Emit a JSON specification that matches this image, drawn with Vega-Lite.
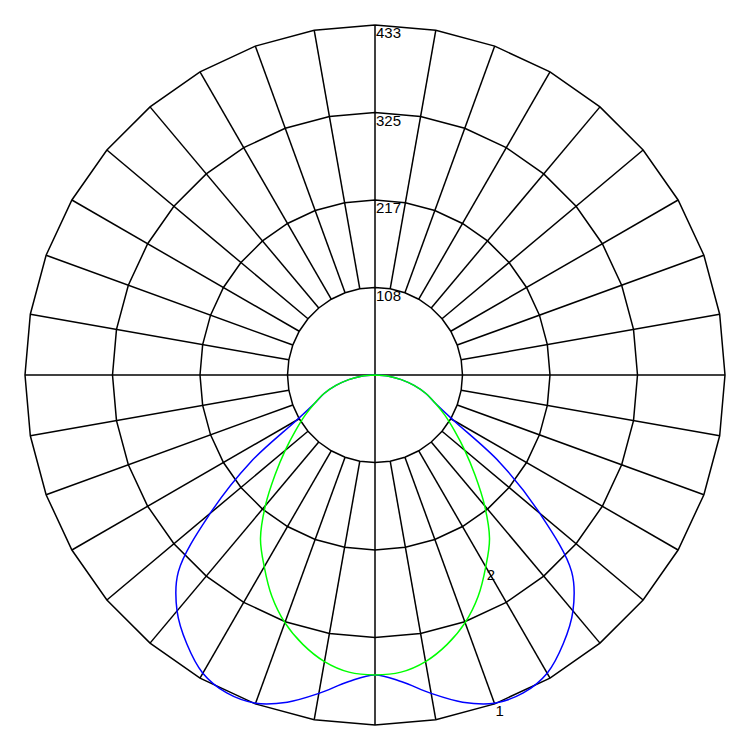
{
  "$schema": "https://vega.github.io/schema/vega-lite/v6.json",
  "width": 750,
  "height": 750,
  "padding": 0,
  "autosize": "none",
  "background": "white",
  "config": {"view": {"stroke": null}, "text": {"font": "Liberation Sans"}},
  "datasets": {
    "rings": [
      {"r":1,"i":0,"x":0,"y":108.25},{"r":1,"i":1,"x":18.80,"y":106.60},{"r":1,"i":2,"x":37.02,"y":101.72},{"r":1,"i":3,"x":54.13,"y":93.75},{"r":1,"i":4,"x":69.58,"y":82.92},{"r":1,"i":5,"x":82.92,"y":69.58},{"r":1,"i":6,"x":93.75,"y":54.13},{"r":1,"i":7,"x":101.72,"y":37.02},{"r":1,"i":8,"x":106.60,"y":18.80},{"r":1,"i":9,"x":108.25,"y":0},
      {"r":1,"i":10,"x":106.60,"y":-18.80},{"r":1,"i":11,"x":101.72,"y":-37.02},{"r":1,"i":12,"x":93.75,"y":-54.13},{"r":1,"i":13,"x":82.92,"y":-69.58},{"r":1,"i":14,"x":69.58,"y":-82.92},{"r":1,"i":15,"x":54.13,"y":-93.75},{"r":1,"i":16,"x":37.02,"y":-101.72},{"r":1,"i":17,"x":18.80,"y":-106.60},{"r":1,"i":18,"x":0,"y":-108.25},
      {"r":1,"i":19,"x":-18.80,"y":-106.60},{"r":1,"i":20,"x":-37.02,"y":-101.72},{"r":1,"i":21,"x":-54.13,"y":-93.75},{"r":1,"i":22,"x":-69.58,"y":-82.92},{"r":1,"i":23,"x":-82.92,"y":-69.58},{"r":1,"i":24,"x":-93.75,"y":-54.13},{"r":1,"i":25,"x":-101.72,"y":-37.02},{"r":1,"i":26,"x":-106.60,"y":-18.80},{"r":1,"i":27,"x":-108.25,"y":0},
      {"r":1,"i":28,"x":-106.60,"y":18.80},{"r":1,"i":29,"x":-101.72,"y":37.02},{"r":1,"i":30,"x":-93.75,"y":54.13},{"r":1,"i":31,"x":-82.92,"y":69.58},{"r":1,"i":32,"x":-69.58,"y":82.92},{"r":1,"i":33,"x":-54.13,"y":93.75},{"r":1,"i":34,"x":-37.02,"y":101.72},{"r":1,"i":35,"x":-18.80,"y":106.60},{"r":1,"i":36,"x":0,"y":108.25},

      {"r":2,"i":0,"x":0,"y":216.5},{"r":2,"i":1,"x":37.59,"y":213.21},{"r":2,"i":2,"x":74.05,"y":203.44},{"r":2,"i":3,"x":108.25,"y":187.49},{"r":2,"i":4,"x":139.16,"y":165.85},{"r":2,"i":5,"x":165.85,"y":139.16},{"r":2,"i":6,"x":187.49,"y":108.25},{"r":2,"i":7,"x":203.44,"y":74.05},{"r":2,"i":8,"x":213.21,"y":37.59},{"r":2,"i":9,"x":216.5,"y":0},
      {"r":2,"i":10,"x":213.21,"y":-37.59},{"r":2,"i":11,"x":203.44,"y":-74.05},{"r":2,"i":12,"x":187.49,"y":-108.25},{"r":2,"i":13,"x":165.85,"y":-139.16},{"r":2,"i":14,"x":139.16,"y":-165.85},{"r":2,"i":15,"x":108.25,"y":-187.49},{"r":2,"i":16,"x":74.05,"y":-203.44},{"r":2,"i":17,"x":37.59,"y":-213.21},{"r":2,"i":18,"x":0,"y":-216.5},
      {"r":2,"i":19,"x":-37.59,"y":-213.21},{"r":2,"i":20,"x":-74.05,"y":-203.44},{"r":2,"i":21,"x":-108.25,"y":-187.49},{"r":2,"i":22,"x":-139.16,"y":-165.85},{"r":2,"i":23,"x":-165.85,"y":-139.16},{"r":2,"i":24,"x":-187.49,"y":-108.25},{"r":2,"i":25,"x":-203.44,"y":-74.05},{"r":2,"i":26,"x":-213.21,"y":-37.59},{"r":2,"i":27,"x":-216.5,"y":0},
      {"r":2,"i":28,"x":-213.21,"y":37.59},{"r":2,"i":29,"x":-203.44,"y":74.05},{"r":2,"i":30,"x":-187.49,"y":108.25},{"r":2,"i":31,"x":-165.85,"y":139.16},{"r":2,"i":32,"x":-139.16,"y":165.85},{"r":2,"i":33,"x":-108.25,"y":187.49},{"r":2,"i":34,"x":-74.05,"y":203.44},{"r":2,"i":35,"x":-37.59,"y":213.21},{"r":2,"i":36,"x":0,"y":216.5},

      {"r":3,"i":0,"x":0,"y":324.75},{"r":3,"i":1,"x":56.39,"y":319.82},{"r":3,"i":2,"x":111.07,"y":305.17},{"r":3,"i":3,"x":162.38,"y":281.24},{"r":3,"i":4,"x":208.75,"y":248.77},{"r":3,"i":5,"x":248.77,"y":208.75},{"r":3,"i":6,"x":281.24,"y":162.38},{"r":3,"i":7,"x":305.17,"y":111.07},{"r":3,"i":8,"x":319.82,"y":56.39},{"r":3,"i":9,"x":324.75,"y":0},
      {"r":3,"i":10,"x":319.82,"y":-56.39},{"r":3,"i":11,"x":305.17,"y":-111.07},{"r":3,"i":12,"x":281.24,"y":-162.38},{"r":3,"i":13,"x":248.77,"y":-208.75},{"r":3,"i":14,"x":208.75,"y":-248.77},{"r":3,"i":15,"x":162.38,"y":-281.24},{"r":3,"i":16,"x":111.07,"y":-305.17},{"r":3,"i":17,"x":56.39,"y":-319.82},{"r":3,"i":18,"x":0,"y":-324.75},
      {"r":3,"i":19,"x":-56.39,"y":-319.82},{"r":3,"i":20,"x":-111.07,"y":-305.17},{"r":3,"i":21,"x":-162.38,"y":-281.24},{"r":3,"i":22,"x":-208.75,"y":-248.77},{"r":3,"i":23,"x":-248.77,"y":-208.75},{"r":3,"i":24,"x":-281.24,"y":-162.38},{"r":3,"i":25,"x":-305.17,"y":-111.07},{"r":3,"i":26,"x":-319.82,"y":-56.39},{"r":3,"i":27,"x":-324.75,"y":0},
      {"r":3,"i":28,"x":-319.82,"y":56.39},{"r":3,"i":29,"x":-305.17,"y":111.07},{"r":3,"i":30,"x":-281.24,"y":162.38},{"r":3,"i":31,"x":-248.77,"y":208.75},{"r":3,"i":32,"x":-208.75,"y":248.77},{"r":3,"i":33,"x":-162.38,"y":281.24},{"r":3,"i":34,"x":-111.07,"y":305.17},{"r":3,"i":35,"x":-56.39,"y":319.82},{"r":3,"i":36,"x":0,"y":324.75},

      {"r":4,"i":0,"x":0,"y":433},{"r":4,"i":1,"x":75.19,"y":426.42},{"r":4,"i":2,"x":148.09,"y":406.89},{"r":4,"i":3,"x":216.5,"y":374.99},{"r":4,"i":4,"x":278.33,"y":331.70},{"r":4,"i":5,"x":331.70,"y":278.33},{"r":4,"i":6,"x":374.99,"y":216.5},{"r":4,"i":7,"x":406.89,"y":148.09},{"r":4,"i":8,"x":426.42,"y":75.19},{"r":4,"i":9,"x":433,"y":0},
      {"r":4,"i":10,"x":426.42,"y":-75.19},{"r":4,"i":11,"x":406.89,"y":-148.09},{"r":4,"i":12,"x":374.99,"y":-216.5},{"r":4,"i":13,"x":331.70,"y":-278.33},{"r":4,"i":14,"x":278.33,"y":-331.70},{"r":4,"i":15,"x":216.5,"y":-374.99},{"r":4,"i":16,"x":148.09,"y":-406.89},{"r":4,"i":17,"x":75.19,"y":-426.42},{"r":4,"i":18,"x":0,"y":-433},
      {"r":4,"i":19,"x":-75.19,"y":-426.42},{"r":4,"i":20,"x":-148.09,"y":-406.89},{"r":4,"i":21,"x":-216.5,"y":-374.99},{"r":4,"i":22,"x":-278.33,"y":-331.70},{"r":4,"i":23,"x":-331.70,"y":-278.33},{"r":4,"i":24,"x":-374.99,"y":-216.5},{"r":4,"i":25,"x":-406.89,"y":-148.09},{"r":4,"i":26,"x":-426.42,"y":-75.19},{"r":4,"i":27,"x":-433,"y":0},
      {"r":4,"i":28,"x":-426.42,"y":75.19},{"r":4,"i":29,"x":-406.89,"y":148.09},{"r":4,"i":30,"x":-374.99,"y":216.5},{"r":4,"i":31,"x":-331.70,"y":278.33},{"r":4,"i":32,"x":-278.33,"y":331.70},{"r":4,"i":33,"x":-216.5,"y":374.99},{"r":4,"i":34,"x":-148.09,"y":406.89},{"r":4,"i":35,"x":-75.19,"y":426.42},{"r":4,"i":36,"x":0,"y":433}
    ],
    "spokes": [
      {"x":-433,"y":0,"x2":433,"y2":0},{"x":0,"y":-433,"x2":0,"y2":433},
      {"x":18.80,"y":106.60,"x2":75.19,"y2":426.42},{"x":37.02,"y":101.72,"x2":148.09,"y2":406.89},{"x":54.13,"y":93.75,"x2":216.5,"y2":374.99},{"x":69.58,"y":82.92,"x2":278.33,"y2":331.70},{"x":82.92,"y":69.58,"x2":331.70,"y2":278.33},{"x":93.75,"y":54.13,"x2":374.99,"y2":216.5},{"x":101.72,"y":37.02,"x2":406.89,"y2":148.09},{"x":106.60,"y":18.80,"x2":426.42,"y2":75.19},
      {"x":18.80,"y":-106.60,"x2":75.19,"y2":-426.42},{"x":37.02,"y":-101.72,"x2":148.09,"y2":-406.89},{"x":54.13,"y":-93.75,"x2":216.5,"y2":-374.99},{"x":69.58,"y":-82.92,"x2":278.33,"y2":-331.70},{"x":82.92,"y":-69.58,"x2":331.70,"y2":-278.33},{"x":93.75,"y":-54.13,"x2":374.99,"y2":-216.5},{"x":101.72,"y":-37.02,"x2":406.89,"y2":-148.09},{"x":106.60,"y":-18.80,"x2":426.42,"y2":-75.19},
      {"x":-18.80,"y":-106.60,"x2":-75.19,"y2":-426.42},{"x":-37.02,"y":-101.72,"x2":-148.09,"y2":-406.89},{"x":-54.13,"y":-93.75,"x2":-216.5,"y2":-374.99},{"x":-69.58,"y":-82.92,"x2":-278.33,"y2":-331.70},{"x":-82.92,"y":-69.58,"x2":-331.70,"y2":-278.33},{"x":-93.75,"y":-54.13,"x2":-374.99,"y2":-216.5},{"x":-101.72,"y":-37.02,"x2":-406.89,"y2":-148.09},{"x":-106.60,"y":-18.80,"x2":-426.42,"y2":-75.19},
      {"x":-18.80,"y":106.60,"x2":-75.19,"y2":426.42},{"x":-37.02,"y":101.72,"x2":-148.09,"y2":406.89},{"x":-54.13,"y":93.75,"x2":-216.5,"y2":374.99},{"x":-69.58,"y":82.92,"x2":-278.33,"y2":331.70},{"x":-82.92,"y":69.58,"x2":-331.70,"y2":278.33},{"x":-93.75,"y":54.13,"x2":-374.99,"y2":216.5},{"x":-101.72,"y":37.02,"x2":-406.89,"y2":148.09},{"x":-106.60,"y":18.80,"x2":-426.42,"y2":75.19}
    ],
    "curves": [
      {"c":"1","a":-90,"x":0,"y":0},{"c":"1","a":-85,"x":-16.94,"y":-1.48},{"c":"1","a":-80,"x":-32.50,"y":-5.73},{"c":"1","a":-75,"x":-48.30,"y":-12.94},{"c":"1","a":-70,"x":-62.96,"y":-22.92},{"c":"1","a":-65,"x":-74.32,"y":-34.66},{"c":"1","a":-60,"x":-96.99,"y":-56.0},{"c":"1","a":-55,"x":-154.0,"y":-107.83},{"c":"1","a":-50,"x":-203.77,"y":-170.98},{"c":"1","a":-45,"x":-243.24,"y":-243.24},{"c":"1","a":-40,"x":-244.90,"y":-291.86},{"c":"1","a":-35,"x":-232.87,"y":-332.58},{"c":"1","a":-30,"x":-213.0,"y":-368.93},{"c":"1","a":-25,"x":-183.42,"y":-393.34},{"c":"1","a":-20,"x":-147.75,"y":-405.95},{"c":"1","a":-15,"x":-108.45,"y":-404.72},{"c":"1","a":-10,"x":-69.46,"y":-393.92},{"c":"1","a":-5,"x":-33.21,"y":-379.55},
      {"c":"1","a":0,"x":0,"y":-371},
      {"c":"1","a":5,"x":33.21,"y":-379.55},{"c":"1","a":10,"x":69.46,"y":-393.92},{"c":"1","a":15,"x":108.45,"y":-404.72},{"c":"1","a":20,"x":147.75,"y":-405.95},{"c":"1","a":25,"x":183.42,"y":-393.34},{"c":"1","a":30,"x":213.0,"y":-368.93},{"c":"1","a":35,"x":232.87,"y":-332.58},{"c":"1","a":40,"x":244.90,"y":-291.86},{"c":"1","a":45,"x":243.24,"y":-243.24},{"c":"1","a":50,"x":203.77,"y":-170.98},{"c":"1","a":55,"x":154.0,"y":-107.83},{"c":"1","a":60,"x":96.99,"y":-56.0},{"c":"1","a":65,"x":74.32,"y":-34.66},{"c":"1","a":70,"x":62.96,"y":-22.92},{"c":"1","a":75,"x":48.30,"y":-12.94},{"c":"1","a":80,"x":32.50,"y":-5.73},{"c":"1","a":85,"x":16.94,"y":-1.48},{"c":"1","a":90,"x":0,"y":0},

      {"c":"2","a":-90,"x":0,"y":0},{"c":"2","a":-85,"x":-16.94,"y":-1.48},{"c":"2","a":-80,"x":-32.50,"y":-5.73},{"c":"2","a":-75,"x":-48.30,"y":-12.94},{"c":"2","a":-70,"x":-62.96,"y":-22.92},{"c":"2","a":-65,"x":-74.32,"y":-34.66},{"c":"2","a":-60,"x":-86.60,"y":-50.0},{"c":"2","a":-55,"x":-98.30,"y":-68.83},{"c":"2","a":-50,"x":-111.08,"y":-93.20},{"c":"2","a":-45,"x":-123.74,"y":-123.74},{"c":"2","a":-40,"x":-135.63,"y":-161.64},{"c":"2","a":-35,"x":-141.67,"y":-202.33},{"c":"2","a":-30,"x":-137.0,"y":-237.29},{"c":"2","a":-25,"x":-127.63,"y":-273.71},{"c":"2","a":-20,"x":-111.50,"y":-306.34},{"c":"2","a":-15,"x":-89.29,"y":-333.24},{"c":"2","a":-10,"x":-62.51,"y":-354.53},{"c":"2","a":-5,"x":-32.16,"y":-367.60},
      {"c":"2","a":0,"x":0,"y":-371},
      {"c":"2","a":5,"x":32.16,"y":-367.60},{"c":"2","a":10,"x":62.51,"y":-354.53},{"c":"2","a":15,"x":89.29,"y":-333.24},{"c":"2","a":20,"x":111.50,"y":-306.34},{"c":"2","a":25,"x":127.63,"y":-273.71},{"c":"2","a":30,"x":137.0,"y":-237.29},{"c":"2","a":35,"x":141.67,"y":-202.33},{"c":"2","a":40,"x":135.63,"y":-161.64},{"c":"2","a":45,"x":123.74,"y":-123.74},{"c":"2","a":50,"x":111.08,"y":-93.20},{"c":"2","a":55,"x":98.30,"y":-68.83},{"c":"2","a":60,"x":86.60,"y":-50.0},{"c":"2","a":65,"x":74.32,"y":-34.66},{"c":"2","a":70,"x":62.96,"y":-22.92},{"c":"2","a":75,"x":48.30,"y":-12.94},{"c":"2","a":80,"x":32.50,"y":-5.73},{"c":"2","a":85,"x":16.94,"y":-1.48},{"c":"2","a":90,"x":0,"y":0}
    ],
    "labels": [
      {"t":"108","x":0,"y":108.25},{"t":"217","x":0,"y":216.5},{"t":"325","x":0,"y":324.75},{"t":"433","x":0,"y":433},
      {"t":"1","x":147.75,"y":-405.95},{"t":"2","x":137.0,"y":-237.29}
    ]
  },
  "encoding": {
    "x": {"field": "x", "type": "quantitative", "axis": null, "scale": {"domain": [-463.93, 463.93], "nice": false, "zero": false}},
    "y": {"field": "y", "type": "quantitative", "axis": null, "scale": {"domain": [-463.93, 463.93], "nice": false, "zero": false}}
  },
  "layer": [
    {
      "data": {"name": "rings"},
      "mark": {"type": "line", "color": "black", "strokeWidth": 1.5, "interpolate": "linear"},
      "encoding": {
        "detail": {"field": "r", "type": "nominal"},
        "order": {"field": "i", "type": "quantitative"}
      }
    },
    {
      "data": {"name": "spokes"},
      "mark": {"type": "rule", "color": "black", "strokeWidth": 1.5},
      "encoding": {
        "x2": {"field": "x2"},
        "y2": {"field": "y2"}
      }
    },
    {
      "data": {"name": "curves"},
      "transform": [{"filter": "datum.c == '1'"}],
      "mark": {"type": "line", "color": "#0000ff", "strokeWidth": 1.5, "interpolate": "catmull-rom"},
      "encoding": {"order": {"field": "a", "type": "quantitative"}}
    },
    {
      "data": {"name": "curves"},
      "transform": [{"filter": "datum.c == '2'"}],
      "mark": {"type": "line", "color": "#00ff00", "strokeWidth": 1.5, "interpolate": "catmull-rom"},
      "encoding": {"order": {"field": "a", "type": "quantitative"}}
    },
    {
      "data": {"name": "labels"},
      "mark": {"type": "text", "align": "left", "baseline": "top", "dx": 1, "dy": 1, "fontSize": 15, "color": "black"},
      "encoding": {"text": {"field": "t"}}
    }
  ]
}
